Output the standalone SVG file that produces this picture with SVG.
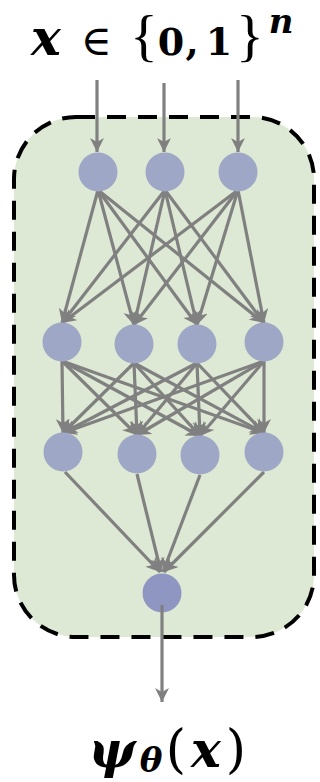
<svg xmlns="http://www.w3.org/2000/svg" width="320" height="782" viewBox="0 0 320 782">
<defs>
<marker id="ah" markerUnits="userSpaceOnUse" markerWidth="16" markerHeight="14" refX="14" refY="7" orient="auto">
<path d="M0,0 L14,7 L0,14 L4,7 Z" fill="#808080"/>
</marker>
<style>
.n{fill:#9ea7c5}
.o{fill:#8f96c2}
.e{stroke:#808080;stroke-width:3.2;fill:none;marker-end:url(#ah)}
.t{font-family:"DejaVu Serif","Liberation Serif",serif;fill:#000;text-anchor:middle}
.ls{font-family:"Liberation Serif","DejaVu Serif",serif}
.bi{font-weight:bold;font-style:italic}
.b{font-weight:bold}
</style>
</defs>
<rect x="14" y="117" width="300" height="520" rx="62" ry="62" fill="#dde9d4" stroke="#000" stroke-width="4" stroke-dasharray="19,12"/>
<g id="edges">
<line class="e" x1="97" y1="80" x2="97" y2="152"/>
<line class="e" x1="164" y1="83" x2="164" y2="152"/>
<line class="e" x1="238" y1="80" x2="238" y2="152"/>
<line class="e" x1="98" y1="190" x2="62" y2="323"/>
<line class="e" x1="98" y1="190" x2="134" y2="325"/>
<line class="e" x1="98" y1="190" x2="197" y2="325"/>
<line class="e" x1="98" y1="190" x2="264" y2="323"/>
<line class="e" x1="165" y1="190" x2="62" y2="323"/>
<line class="e" x1="165" y1="190" x2="134" y2="325"/>
<line class="e" x1="165" y1="190" x2="197" y2="325"/>
<line class="e" x1="165" y1="190" x2="264" y2="323"/>
<line class="e" x1="238" y1="190" x2="62" y2="323"/>
<line class="e" x1="238" y1="190" x2="134" y2="325"/>
<line class="e" x1="238" y1="190" x2="197" y2="325"/>
<line class="e" x1="238" y1="190" x2="264" y2="323"/>
<line class="e" x1="62" y1="361" x2="63" y2="433"/>
<line class="e" x1="62" y1="361" x2="137" y2="435"/>
<line class="e" x1="62" y1="361" x2="200" y2="436"/>
<line class="e" x1="62" y1="361" x2="264" y2="433"/>
<line class="e" x1="134" y1="363" x2="63" y2="433"/>
<line class="e" x1="134" y1="363" x2="137" y2="435"/>
<line class="e" x1="134" y1="363" x2="200" y2="436"/>
<line class="e" x1="134" y1="363" x2="264" y2="433"/>
<line class="e" x1="197" y1="363" x2="63" y2="433"/>
<line class="e" x1="197" y1="363" x2="137" y2="435"/>
<line class="e" x1="197" y1="363" x2="200" y2="436"/>
<line class="e" x1="197" y1="363" x2="264" y2="433"/>
<line class="e" x1="264" y1="361" x2="63" y2="433"/>
<line class="e" x1="264" y1="361" x2="137" y2="435"/>
<line class="e" x1="264" y1="361" x2="200" y2="436"/>
<line class="e" x1="264" y1="361" x2="264" y2="433"/>
<line class="e" x1="65" y1="472" x2="160" y2="572"/>
<line class="e" x1="137" y1="474" x2="161" y2="572"/>
<line class="e" x1="200" y1="475" x2="163" y2="572"/>
<line class="e" x1="264" y1="472" x2="164" y2="572"/>
</g>
<g id="l1">
<circle id="n11" class="n" cx="98" cy="172" r="19.5"/>
<circle id="n12" class="n" cx="165" cy="172" r="19.5"/>
<circle id="n13" class="n" cx="238" cy="172" r="19.5"/>
</g>
<g id="l2">
<circle id="n21" class="n" cx="62" cy="342" r="19.5"/>
<circle id="n22" class="n" cx="134" cy="344" r="19.5"/>
<circle id="n23" class="n" cx="197" cy="344" r="19.5"/>
<circle id="n24" class="n" cx="264" cy="342" r="19.5"/>
</g>
<g id="l3">
<circle id="n31" class="n" cx="63" cy="452" r="19.5"/>
<circle id="n32" class="n" cx="137" cy="454" r="19.5"/>
<circle id="n33" class="n" cx="200" cy="455" r="19.5"/>
<circle id="n34" class="n" cx="264" cy="452" r="19.5"/>
</g>
<g id="out">
<circle id="n41" class="o" cx="162" cy="593" r="19.5"/>
</g>
<g id="out-edge">
<line class="e" x1="162" y1="605" x2="162" y2="702"/>
</g>
<g id="input-label">
<text class="t bi" x="46" y="55" font-size="50">x</text>
<text class="t" x="96" y="55" font-size="42">∈</text>
<text class="t ls" x="144" y="55" font-size="58">{</text>
<text class="t b" x="171" y="55" font-size="38">0</text>
<text class="t b" x="192" y="55" font-size="38">,</text>
<text class="t b" x="219" y="55" font-size="38">1</text>
<text class="t ls" x="250" y="55" font-size="58">}</text>
<text class="t bi" x="281" y="33" font-size="34">n</text>
</g>
<g id="output-label">
<text class="t bi" x="112" y="767" font-size="50">ψ</text>
<text class="t bi" x="151" y="772" font-size="34">θ</text>
<text class="t" x="176" y="767" font-size="52">(</text>
<text class="t bi" x="206" y="767" font-size="50">x</text>
<text class="t" x="236" y="767" font-size="52">)</text>
</g>
</svg>
